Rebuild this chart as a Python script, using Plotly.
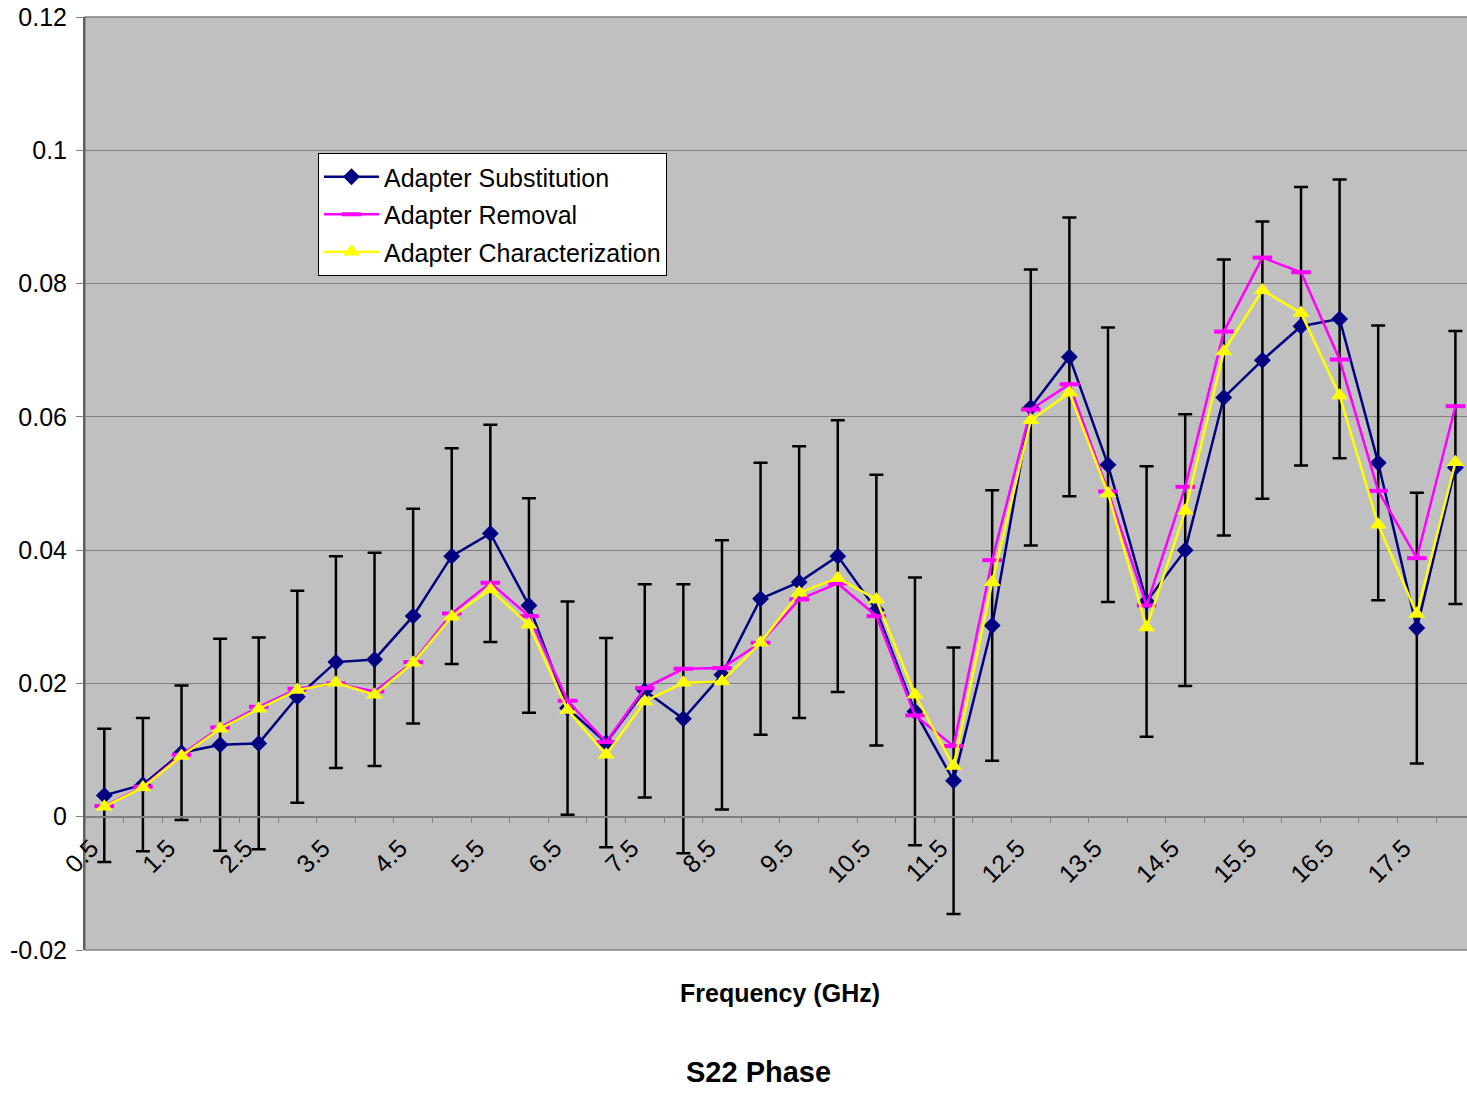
import plotly.graph_objects as go

# Frequency points (GHz)
freq = [0.5, 1.0, 1.5, 2.0, 2.5, 3.0, 3.5, 4.0, 4.5, 5.0, 5.5, 6.0,
        6.5, 7.0, 7.5, 8.0, 8.5, 9.0, 9.5, 10.0, 10.5, 11.0, 11.5, 12.0,
        12.5, 13.0, 13.5, 14.0, 14.5, 15.0, 15.5, 16.0, 16.5, 17.0, 17.5, 18.0]

# S22 phase results for each method
substitution = [0.0032, 0.0048, 0.0096, 0.0108, 0.0110, 0.0180, 0.0232, 0.0236,
                0.0301, 0.0391, 0.0425, 0.0317, 0.0163, 0.0111, 0.0189, 0.0147,
                0.0213, 0.0327, 0.0352, 0.0391, 0.0310, 0.0158, 0.0054, 0.0287,
                0.0614, 0.0690, 0.0528, 0.0323, 0.0400, 0.0629, 0.0685, 0.0736,
                0.0747, 0.0531, 0.0283, 0.0524]
substitution_unc = [0.0100, 0.0100, 0.0101, 0.0159, 0.0159, 0.0159, 0.0159, 0.0160,
                    0.0161, 0.0162, 0.0163, 0.0161, 0.0160, 0.0157, 0.0160, 0.0202,
                    0.0202, 0.0204, 0.0204, 0.0204, 0.0203, 0.0201, 0.0200, 0.0203,
                    0.0207, 0.0209, 0.0206, 0.0203, 0.0204, 0.0207, 0.0208, 0.0209,
                    0.0209, 0.0206, 0.0203, 0.0205]
removal = [0.0016, 0.0045, 0.0093, 0.0134, 0.0165, 0.0192, 0.0200, 0.0188,
           0.0232, 0.0305, 0.0351, 0.0301, 0.0174, 0.0112, 0.0193, 0.0222,
           0.0223, 0.0261, 0.0326, 0.0350, 0.0301, 0.0152, 0.0106, 0.0385,
           0.0611, 0.0649, 0.0488, 0.0317, 0.0495, 0.0728, 0.0839, 0.0817,
           0.0686, 0.0489, 0.0388, 0.0616]
characterization = [0.0015, 0.0044, 0.0091, 0.0132, 0.0162, 0.0190, 0.0201, 0.0183,
                    0.0231, 0.0300, 0.0341, 0.0288, 0.0160, 0.0093, 0.0173, 0.0201,
                    0.0203, 0.0261, 0.0336, 0.0358, 0.0326, 0.0183, 0.0076, 0.0352,
                    0.0595, 0.0636, 0.0485, 0.0284, 0.0459, 0.0698, 0.0790, 0.0756,
                    0.0632, 0.0438, 0.0304, 0.0532]

# Axis ticks
y_tick_vals = [-0.02, 0, 0.02, 0.04, 0.06, 0.08, 0.1, 0.12]
y_tick_labels = ["-0.02", "0", "0.02", "0.04", "0.06", "0.08", "0.1", "0.12"]
x_tick_vals = [0.5, 1.5, 2.5, 3.5, 4.5, 5.5, 6.5, 7.5, 8.5,
               9.5, 10.5, 11.5, 12.5, 13.5, 14.5, 15.5, 16.5, 17.5]
x_tick_labels = ["0.5", "1.5", "2.5", "3.5", "4.5", "5.5", "6.5", "7.5", "8.5",
                 "9.5", "10.5", "11.5", "12.5", "13.5", "14.5", "15.5", "16.5", "17.5"]

FONT = "Liberation Sans, Arial, sans-serif"

# rotated labels sit with their end a little to the left of the category centre
label_shift = 0.17
x_label_pos = [v - label_shift for v in x_tick_vals]

fig = go.Figure()

fig.add_trace(go.Scatter(
    x=freq, y=substitution, name="Adapter Substitution", legendgroup="a",
    mode="lines+markers",
    line=dict(color="#000080", width=2.5),
    marker=dict(symbol="diamond", size=13, color="#000080"),
    error_y=dict(type="data", array=substitution_unc, symmetric=True,
                 color="black", thickness=2.5, width=7),
))
fig.add_trace(go.Scatter(
    x=freq, y=removal, name="Adapter Removal", legendgroup="b",
    mode="lines+markers",
    line=dict(color="#FF00FF", width=2.5),
    marker=dict(symbol="line-ew", size=14, color="#FF00FF",
                line=dict(color="#FF00FF", width=4)),
))
fig.add_trace(go.Scatter(
    x=freq, y=characterization, name="Adapter Characterization", legendgroup="c",
    mode="lines+markers",
    line=dict(color="#FFFF00", width=2.5),
    marker=dict(symbol="triangle-up", size=15, color="#FFFF00"),
))

# Plot-area border
fig.add_shape(type="rect", xref="paper", yref="paper", x0=0, x1=1.01, y0=0, y1=1,
              line=dict(color="#808080", width=1.5), layer="below")

# Axis title and chart title below the plot
fig.add_annotation(text="<b>Frequency (GHz)</b>", xref="paper", yref="paper",
                   x=0.503, y=-0.046, showarrow=False, xanchor="center", yanchor="middle",
                   font=dict(family=FONT, size=25, color="black"))
fig.add_annotation(text="<b>S22 Phase</b>", xref="paper", yref="paper",
                   x=0.487, y=-0.131, showarrow=False, xanchor="center", yanchor="middle",
                   font=dict(family=FONT, size=29, color="black"))

fig.update_layout(
    width=1467, height=1094,
    margin=dict(l=85, r=0, t=17, b=144),
    paper_bgcolor="white",
    plot_bgcolor="#C0C0C0",
    font=dict(family=FONT, size=25, color="black"),
    showlegend=True,
    legend=dict(
        x=0.1686, y=0.8542, xanchor="left", yanchor="top",
        bgcolor="white", bordercolor="black", borderwidth=1,
        font=dict(family=FONT, size=25, color="black"),
        tracegroupgap=2, itemwidth=55,
    ),
    xaxis=dict(
        range=[0.25, 18.15],
        anchor="free", position=0.02 / 0.14,
        tickmode="array", tickvals=x_label_pos, ticktext=x_tick_labels,
        tickangle=-45, ticks="", ticklabelstandoff=6,
        tickfont=dict(family=FONT, size=25, color="black"),
        showgrid=False, zeroline=False,
        showline=True, linecolor="#808080", linewidth=1.5,
        minor=dict(tickmode="linear", tick0=0.25, dtick=0.5, ticks="outside",
                   ticklen=6, tickwidth=1, tickcolor="#808080", showgrid=False),
    ),
    yaxis=dict(
        range=[-0.02, 0.12],
        tickmode="array", tickvals=y_tick_vals, ticktext=y_tick_labels,
        ticks="outside", ticklen=7, tickwidth=1, tickcolor="#808080",
        ticklabelstandoff=4,
        tickfont=dict(family=FONT, size=25, color="black"),
        showgrid=True, gridcolor="#808080", gridwidth=1,
        zeroline=False,
        showline=True, linecolor="#606060", linewidth=2,
    ),
)

fig.write_html("out.html")
